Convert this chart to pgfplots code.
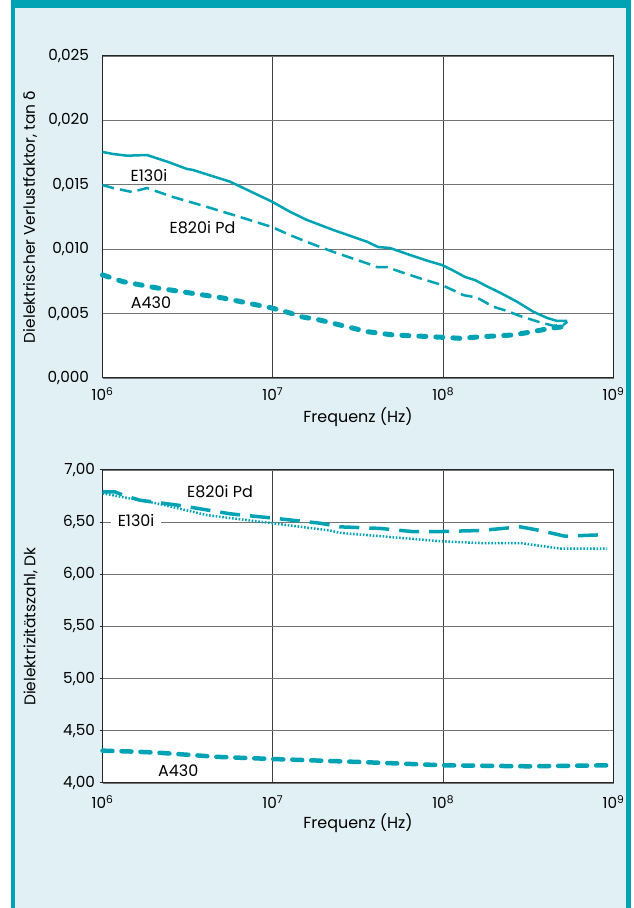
\documentclass[border=0pt]{standalone}
\usepackage{pgfplots}
\pgfplotsset{compat=1.18}
\usepackage{fontspec}
\setmainfont{Poppins}
\newfontfamily\grk{DejaVu Sans}
\definecolor{tl}{RGB}{0,163,180}
\definecolor{bgb}{RGB}{224,240,244}
\definecolor{gridc}{RGB}{115,115,115}
\newcommand{\fs}{\fontsize{16}{19}\selectfont}
\newcommand{\ft}{\fontsize{15.3}{18}\selectfont}
\newcommand{\fy}{\fontsize{15.5}{18}\selectfont}
\begin{document}
\begin{tikzpicture}[x=1bp,y=1bp]
\useasboundingbox (0,0) rectangle (634,908);
\fill[white] (0,0) rectangle (634,908);
\fill[tl] (11,0) rectangle (631,908);
\fill[bgb] (15,0) rectangle (626,900);

\begin{axis}[
  scale only axis, width=511bp,
  xmin=6, xmax=9,
  xtick={6,7,8,9},
  xticklabels={10\textsuperscript{6},10\textsuperscript{7},10\textsuperscript{8},10\textsuperscript{9}},
  grid=major, major grid style={draw=gridc, line width=0.9bp},
  every major x grid/.style={draw=black!75, line width=0.9bp},
  axis line style={draw=black!85, line width=1bp},
  xtick style={draw=none},
  axis background/.style={fill=white},
  scaled y ticks=false,
  xticklabel style={font=\ft, yshift=-6bp},
  yticklabel style={font=\ft, xshift=-10bp},
  every axis x label/.style={at={(axis description cs:0.5,0)}, yshift=-39bp, anchor=center, font=\fs},
  every axis y label/.style={at={(axis description cs:0,0.5)}, xshift=-72.5bp, rotate=90, anchor=center, font=\fy},
  xlabel={Frequenz (Hz)},
  clip=false,
  at={(102.5bp,530bp)}, anchor=south west, height=322bp,
  ymin=0, ymax=0.025,
  ytick={0,0.005,0.01,0.015,0.02,0.025},
  yticklabels={{0,000},{0,005},{0,010},{0,015},{0,020},{0,025}},
  ytick style={draw=none},
  ylabel={Dielektrischer Verlustfaktor, tan {\grk δ}},
]
% E130i  (x = log10 of frequency in Hz)
\addplot[tl, line width=2.5bp, line join=round] coordinates {
(6.0,0.01755) (6.062,0.01739) (6.144,0.01726) (6.261,0.01731) (6.379,0.0168)
(6.496,0.01623) (6.531,0.01615) (6.749,0.01524) (6.995,0.01369) (7.1,0.01291)
(7.2,0.01227) (7.353,0.0115) (7.553,0.01058) (7.618,0.01017) (7.688,0.01009)
(7.788,0.00963) (7.905,0.00911) (7.993,0.00877) (8.053,0.00838) (8.129,0.00784)
(8.187,0.0076) (8.264,0.00707) (8.334,0.00662) (8.434,0.00592) (8.528,0.00515)
(8.61,0.00466) (8.669,0.00443) (8.727,0.00443)
};
% E820i Pd
\addplot[tl, line width=2.5bp, dash pattern=on 12bp off 6bp] coordinates {
(6.0,0.01498) (6.062,0.01475) (6.173,0.01444) (6.261,0.01475) (6.414,0.01405)
(6.614,0.01328) (6.807,0.0125) (6.995,0.01172) (7.1,0.0111) (7.218,0.01047)
(7.353,0.0098) (7.553,0.0089) (7.612,0.00861) (7.67,0.00861) (7.747,0.00825)
(7.864,0.00774) (7.993,0.00722) (8.117,0.00644) (8.199,0.00624) (8.293,0.00554)
(8.375,0.0052) (8.452,0.00481) (8.569,0.00432) (8.645,0.00406) (8.704,0.00411) (8.73,0.00437)
};
% A430
\addplot[tl, line width=5bp, line cap=round, dash pattern=on 7bp off 10bp] coordinates {
(6.0,0.0080) (6.12,0.00748) (6.32,0.00699) (6.514,0.0066) (6.707,0.00621)
(6.995,0.00543) (7.1,0.00505) (7.165,0.00476) (7.277,0.0045) (7.395,0.00411)
(7.553,0.0036) (7.706,0.00334) (7.847,0.00326) (7.993,0.00316) (8.1,0.00308)
(8.234,0.00321) (8.41,0.00334) (8.528,0.0036) (8.628,0.00386) (8.704,0.00398) (8.73,0.0042)
};
\node[font=\fs] at (axis cs:6.273,0.01576) {E130i};
\node[font=\fs] at (axis cs:6.587,0.01165) {E820i Pd};
\node[font=\fs] at (axis cs:6.285,0.00582) {A430};
\end{axis}

\begin{axis}[
  scale only axis, width=511bp,
  xmin=6, xmax=9,
  xtick={6,7,8,9},
  xticklabels={10\textsuperscript{6},10\textsuperscript{7},10\textsuperscript{8},10\textsuperscript{9}},
  grid=major, major grid style={draw=gridc, line width=0.9bp},
  every major x grid/.style={draw=black!75, line width=0.9bp},
  axis line style={draw=black!85, line width=1bp},
  xtick style={draw=none},
  axis background/.style={fill=white},
  scaled y ticks=false,
  xticklabel style={font=\ft, yshift=-6bp},
  yticklabel style={font=\ft, xshift=-1bp},
  every axis x label/.style={at={(axis description cs:0.5,0)}, yshift=-40bp, anchor=center, font=\fs},
  every axis y label/.style={at={(axis description cs:0,0.5)}, xshift=-72bp, rotate=90, anchor=center, font=\fy},
  xlabel={Frequenz (Hz)},
  clip=false,
  at={(102.5bp,125bp)}, anchor=south west, height=313bp,
  ymin=4, ymax=7,
  ytick={4,4.5,5,5.5,6,6.5,7},
  yticklabels={{4,00},{4,50},{5,00},{5,50},{6,00},{6,50},{7,00}},
  ytick style={draw=black!85, line width=1bp},
  major tick length=3bp, tick align=outside, ytick pos=left,
  ylabel={Dielektrizitätszahl, Dk},
]
% E820i Pd
\addplot[tl, line width=3.5bp, dash pattern=on 20bp off 10bp] coordinates {
(6.0,6.79) (6.073,6.79) (6.12,6.76) (6.22,6.71) (6.455,6.66) (6.749,6.58)
(6.995,6.54) (7.277,6.49) (7.395,6.455) (7.63,6.44) (7.817,6.41) (7.982,6.41)
(8.217,6.42) (8.452,6.455) (8.569,6.42) (8.716,6.365) (8.863,6.375) (8.962,6.38)
};
% E130i
\addplot[tl, line width=2.5bp, dash pattern=on 1.6bp off 1.7bp] coordinates {
(6.0,6.776) (6.12,6.74) (6.32,6.68) (6.614,6.567) (6.995,6.49) (7.336,6.42)
(7.395,6.397) (7.747,6.35) (7.982,6.317) (8.217,6.30) (8.452,6.30) (8.687,6.247) (8.962,6.247)
};
% A430
\addplot[tl, line width=4.5bp, line cap=round, dash pattern=on 10bp off 9bp] coordinates {
(6.0,4.31) (6.2,4.30) (6.33,4.29) (6.68,4.25) (7.0,4.23) (7.53,4.20)
(8.0,4.17) (8.5,4.16) (9.0,4.17)
};
\node[font=\fs] at (axis cs:6.69,6.79) {E820i Pd};
\node[font=\fs, fill=white, inner xsep=7bp, inner ysep=1bp] at (axis cs:6.197,6.52) {E130i};
\node[font=\fs] at (axis cs:6.445,4.115) {A430};
\end{axis}
\end{tikzpicture}
\end{document}
